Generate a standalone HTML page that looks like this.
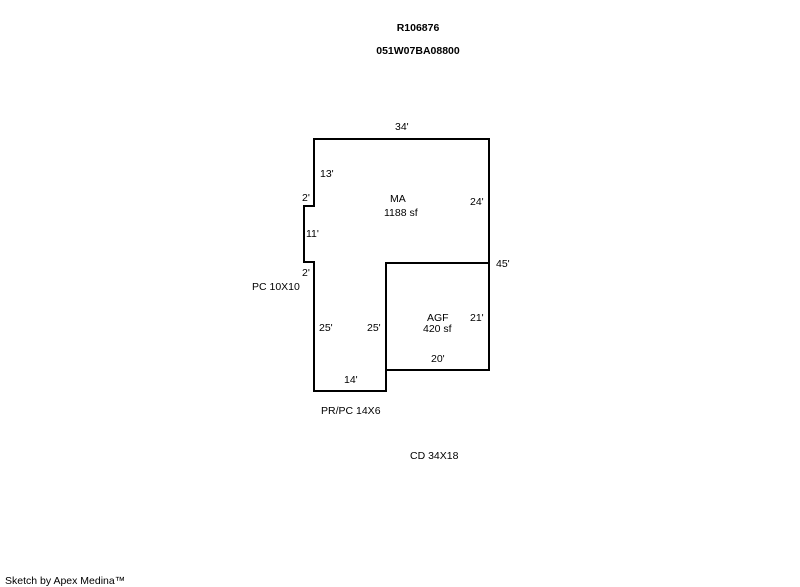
<!DOCTYPE html>
<html><head><meta charset="utf-8"><style>
html,body{margin:0;padding:0;background:#fff;}
svg{display:block;}
text{font-family:"Liberation Sans",Arial,sans-serif;font-size:10.5px;fill:#000;}
</style></head><body>
<svg width="800" height="587" viewBox="0 0 800 587" xmlns="http://www.w3.org/2000/svg">
<g fill="none" stroke="#000" stroke-width="2" stroke-linejoin="miter">
<polygon points="314,139 489,139 489,370 386,370 386,391 314,391 314,262 304,262 304,206 314,206"/>
<polyline points="386,370 386,263 489,263"/>
</g>
<text x="418" y="31" text-anchor="middle" font-weight="bold">R106876</text>
<text x="418" y="54" text-anchor="middle" font-weight="bold">051W07BA08800</text>
<text x="395" y="130">34'</text>
<text x="320" y="177">13'</text>
<text x="302" y="201">2'</text>
<text x="390" y="202">MA</text>
<text x="384" y="216">1188 sf</text>
<text x="470" y="205">24'</text>
<text x="306" y="237">11'</text>
<text x="496" y="267">45'</text>
<text x="302" y="276">2'</text>
<text x="252" y="290">PC 10X10</text>
<text x="427" y="321">AGF</text>
<text x="423" y="332">420 sf</text>
<text x="470" y="321">21'</text>
<text x="319" y="331">25'</text>
<text x="367" y="331">25'</text>
<text x="431" y="362">20'</text>
<text x="344" y="383">14'</text>
<text x="321" y="414">PR/PC 14X6</text>
<text x="410" y="459">CD 34X18</text>
<text x="5" y="584">Sketch by Apex Medina™</text>
</svg>
</body></html>
